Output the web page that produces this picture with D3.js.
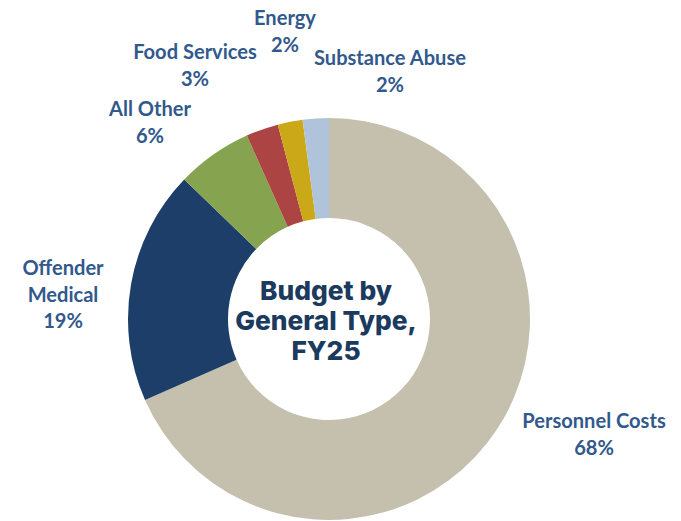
<!DOCTYPE html>
<html><head><meta charset="utf-8">
<script src="https://cdn.jsdelivr.net/npm/d3@7"></script>
<style>body{margin:0;background:#fff;}svg{display:block;}</style>
</head><body>
<svg id="chart" width="681" height="521"></svg>
<script>
const categories = ["Personnel Costs", "Offender Medical", "All Other", "Food Services", "Energy", "Substance Abuse"];
const values = [68.4, 18.8, 6.1, 2.6, 2.0, 2.1];
const colors = ["#c4c0ad", "#1c3e69", "#86a44f", "#ab4442", "#cba818", "#afc3db"];
const labelLines = [["Personnel Costs"], ["Offender", "Medical"], ["All Other"], ["Food Services"], ["Energy"], ["Substance Abuse"]];
const labelPos = [[594, 420], [63, 267], [150, 108], [195, 51], [285, 17], [390, 57]];
const titleLines = ["Budget by", "General Type,", "FY25"];

const svg = d3.select("#chart");
const cx = 329, cy = 319, R = 201, r = 101;
const pie = d3.pie().sort(null).value(d => d)(values);
const arc = d3.arc().innerRadius(r).outerRadius(R);
const g = svg.append("g").attr("transform", `translate(${cx},${cy})`);
g.selectAll("path").data(pie).join("path")
  .attr("d", arc).attr("fill", (d, i) => colors[i]);

const lineH = 26.5;
const labels = svg.append("g")
  .attr("font-family", "Lato, 'Open Sans', sans-serif").attr("font-weight", 700)
  .attr("font-size", 18).attr("fill", "#31598c").attr("text-anchor", "middle");
const probe = labels.append("text").text("Substance Abuse");
const w = probe.node().getComputedTextLength();
probe.remove();
labels.attr("font-size", 18 * 152 / w);
categories.forEach((c, i) => {
  const lines = labelLines[i].concat([Math.round(values[i]) + "%"]);
  const t = labels.append("text").attr("x", labelPos[i][0]).attr("y", labelPos[i][1]);
  lines.forEach((l, j) => {
    t.append("tspan").attr("x", labelPos[i][0]).attr("y", labelPos[i][1] + j * lineH)
      .attr("dominant-baseline", "central").text(l);
  });
});

const title = svg.append("text").attr("text-anchor", "middle")
  .attr("font-family", "Inter, sans-serif").attr("font-weight", 800)
  .attr("font-size", 26.3).attr("fill", "#1b3a5e");
titleLines.forEach((l, j) => {
  title.append("tspan").attr("x", 326).attr("y", 290 + j * 30)
    .attr("dominant-baseline", "central").text(l);
});
</script>
</body></html>
